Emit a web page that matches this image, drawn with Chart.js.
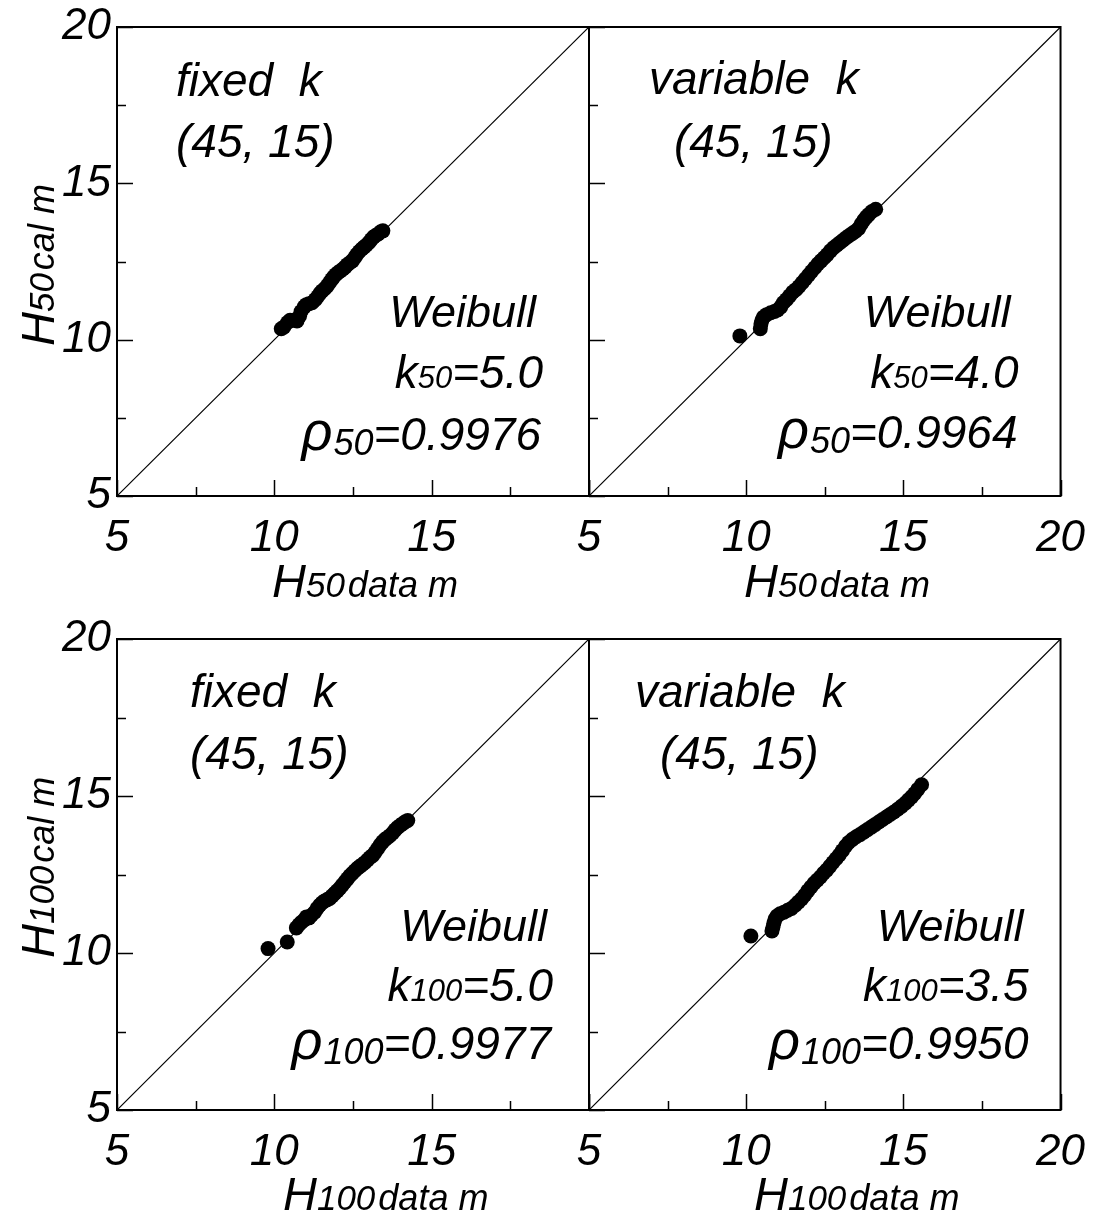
<!DOCTYPE html>
<html>
<head>
<meta charset="utf-8">
<title>H50 / H100 calculated vs data</title>
<script src="https://cdn.jsdelivr.net/npm/chart.js@4.4.0/dist/chart.umd.min.js"></script>
<style>
  html, body { margin: 0; padding: 0; background: #fff; }
  #wrap { position: relative; width: 1093px; height: 1218px; overflow: hidden; }
  #wrap canvas { position: absolute; left: 0; top: 0; }
</style>
</head>
<body>
<div id="wrap">
  <canvas id="tl" width="1093" height="1218"></canvas>
  <canvas id="tr" width="1093" height="1218"></canvas>
  <canvas id="bl" width="1093" height="1218"></canvas>
  <canvas id="br" width="1093" height="1218"></canvas>
</div>
<script>
// axis values
const axisTicks = [5, 10, 15, 20];
const minorTicks = [7.5, 12.5, 17.5];
const diagonal = [5, 20];

// H50, fixed k
const h50FixedData = [10.22, 10.30, 10.42, 10.50, 10.60, 10.72, 10.80, 10.85, 10.95, 11.02, 11.10, 11.20, 11.30, 11.38, 11.45, 11.52, 11.60, 11.68, 11.75, 11.82, 11.88, 11.95, 12.02, 12.10, 12.18, 12.25, 12.32, 12.40, 12.48, 12.55, 12.62, 12.70, 12.78, 12.85, 12.92, 13.00, 13.08, 13.15, 13.22, 13.30, 13.38, 13.45];
const h50FixedCal  = [10.35, 10.40, 10.55, 10.62, 10.62, 10.60, 10.75, 10.90, 11.05, 11.12, 11.15, 11.18, 11.28, 11.38, 11.48, 11.56, 11.63, 11.72, 11.82, 11.92, 12.00, 12.08, 12.14, 12.20, 12.26, 12.32, 12.40, 12.46, 12.52, 12.62, 12.72, 12.82, 12.90, 12.96, 13.02, 13.10, 13.20, 13.28, 13.33, 13.38, 13.45, 13.48];

// H50, variable k
const h50VarData = [9.80, 10.45, 10.47, 10.50, 10.55, 10.65, 10.78, 10.90, 11.00, 11.10, 11.18, 11.28, 11.38, 11.48, 11.58, 11.68, 11.78, 11.88, 11.98, 12.08, 12.18, 12.28, 12.38, 12.48, 12.58, 12.68, 12.78, 12.88, 12.98, 13.08, 13.18, 13.28, 13.38, 13.48, 13.58, 13.66, 13.74, 13.82, 13.90, 14.00, 14.12];
const h50VarCal  = [10.12, 10.35, 10.50, 10.62, 10.72, 10.80, 10.86, 10.90, 10.95, 11.05, 11.18, 11.28, 11.40, 11.52, 11.60, 11.70, 11.82, 11.94, 12.06, 12.18, 12.30, 12.42, 12.52, 12.62, 12.72, 12.84, 12.94, 13.02, 13.10, 13.18, 13.26, 13.33, 13.40, 13.47, 13.56, 13.70, 13.82, 13.92, 14.00, 14.10, 14.17];

// H100, fixed k
const h100FixedData = [9.80, 10.41, 10.70, 10.78, 10.86, 10.95, 11.02, 11.10, 11.18, 11.28, 11.36, 11.44, 11.52, 11.60, 11.68, 11.76, 11.84, 11.92, 12.00, 12.08, 12.16, 12.24, 12.32, 12.40, 12.48, 12.56, 12.64, 12.72, 12.80, 12.88, 12.96, 13.04, 13.12, 13.20, 13.28, 13.36, 13.44, 13.52, 13.60, 13.68, 13.76, 13.84, 13.92, 14.00, 14.08, 14.16, 14.24];
const h100FixedCal  = [10.14, 10.35, 10.80, 10.90, 10.98, 11.05, 11.15, 11.12, 11.20, 11.30, 11.42, 11.52, 11.60, 11.66, 11.70, 11.74, 11.82, 11.90, 11.98, 12.06, 12.16, 12.26, 12.36, 12.46, 12.54, 12.62, 12.70, 12.76, 12.82, 12.88, 12.96, 13.04, 13.10, 13.20, 13.32, 13.44, 13.54, 13.62, 13.68, 13.74, 13.82, 13.92, 14.00, 14.06, 14.12, 14.18, 14.22];

// H100, variable k
const h100VarData = [10.15, 10.82, 10.85, 10.88, 10.92, 10.98, 11.08, 11.20, 11.32, 11.44, 11.56, 11.66, 11.76, 11.86, 11.96, 12.06, 12.16, 12.26, 12.36, 12.46, 12.56, 12.66, 12.76, 12.86, 12.96, 13.06, 13.16, 13.26, 13.38, 13.50, 13.62, 13.74, 13.86, 13.98, 14.10, 14.22, 14.34, 14.46, 14.58, 14.70, 14.82, 14.94, 15.06, 15.16, 15.26, 15.36, 15.46, 15.58];
const h100VarCal  = [10.54, 10.70, 10.82, 10.95, 11.08, 11.18, 11.25, 11.30, 11.36, 11.42, 11.52, 11.62, 11.72, 11.84, 11.98, 12.10, 12.22, 12.32, 12.42, 12.54, 12.64, 12.76, 12.88, 13.00, 13.12, 13.26, 13.40, 13.52, 13.62, 13.70, 13.77, 13.85, 13.93, 14.01, 14.09, 14.17, 14.25, 14.33, 14.41, 14.49, 14.58, 14.67, 14.77, 14.87, 14.97, 15.08, 15.21, 15.36];

const W = 1093, H = 1218;
const FAMILY = '"Liberation Sans", Arial, Helvetica, sans-serif';
const font = size => 'italic ' + size + 'px ' + FAMILY;

function drawRuns(ctx, runs, x, y, align) {
  let total = 0;
  runs.forEach(r => {
    ctx.font = font(r.size);
    r.w = ctx.measureText(r.t).width + (r.gap || 0);
    total += r.w;
  });
  let cx = align === 'right' ? x - total : x;
  ctx.textAlign = 'left';
  ctx.textBaseline = 'alphabetic';
  runs.forEach(r => {
    ctx.font = font(r.size);
    ctx.fillText(r.t, cx + (r.gap || 0), y + (r.dy || 0));
    cx += r.w;
  });
}

function deco(p) {
  return {
    id: 'deco_' + p.id,
    afterDatasetsDraw(chart) {
      const { ctx, chartArea: a, scales: { x, y } } = chart;
      ctx.save();
      ctx.strokeStyle = '#000';
      ctx.fillStyle = '#000';

      // inward tick marks on bottom and left
      ctx.lineWidth = 1.5;
      ctx.beginPath();
      axisTicks.concat(minorTicks).forEach(v => {
        const len = axisTicks.includes(v) ? 16 : 9;
        const px = Math.round(x.getPixelForValue(v)) + 0.5;
        ctx.moveTo(px, a.bottom);
        ctx.lineTo(px, a.bottom - len);
        const py = Math.round(y.getPixelForValue(v)) + 0.5;
        ctx.moveTo(a.left, py);
        ctx.lineTo(a.left + len, py);
      });
      ctx.stroke();

      // frame
      ctx.lineWidth = 2;
      ctx.strokeRect(a.left, a.top, a.right - a.left, a.bottom - a.top);

      // annotations
      const big = 46;
      drawRuns(ctx, [{ t: p.head, size: big }], a.left + p.pos.headDx, a.top + p.pos.headDy, 'left');
      drawRuns(ctx, [{ t: '(45, 15)', size: big }], a.left + p.pos.parenDx, a.top + p.pos.parenDy, 'left');
      drawRuns(ctx, [{ t: 'Weibull', size: 45 }], a.right - p.pos.weibDx, a.top + p.pos.weibDy, 'right');
      drawRuns(ctx, [
        { t: 'k', size: big },
        { t: p.sub, size: 31 },
        { t: '=' + p.kValue, size: big }
      ], a.right - p.pos.kDx, a.top + p.pos.kDy, 'right');
      drawRuns(ctx, [
        { t: 'ρ', size: 54 },
        { t: p.sub, size: 36, dy: 5, gap: 1 },
        { t: '=' + p.rhoValue, size: big }
      ], a.right - p.pos.rhoDx, a.top + p.pos.rhoDy, 'right');

      // x title
      drawRuns(ctx, [
        { t: 'H', size: 47 },
        { t: p.sub, size: 35 },
        { t: 'data m', size: 36, gap: 3 }
      ], p.xTitle[0], p.xTitle[1], 'left');

      // y title (rotated)
      if (p.yTitle) {
        ctx.save();
        ctx.translate(p.yTitle[0], p.yTitle[1]);
        ctx.rotate(-Math.PI / 2);
        drawRuns(ctx, [
          { t: 'H', size: 47 },
          { t: p.sub, size: 35 },
          { t: 'cal m', size: 36, gap: 3 }
        ], 0, 0, 'left');
        ctx.restore();
      }
      ctx.restore();
    }
  };
}

function makePanel(p) {
  const yW = 60, xH = 70;
  const tickFont = { family: FAMILY, style: 'italic', size: 44 };
  return new Chart(document.getElementById(p.id), {
    type: 'scatter',
    data: {
      datasets: [
        {
          type: 'line',
          data: diagonal.map(v => ({ x: v, y: v })),
          borderColor: '#000',
          borderWidth: 1.2,
          pointRadius: 0,
          fill: false
        },
        {
          data: p.xs.map((v, i) => ({ x: v, y: p.ys[i] })),
          backgroundColor: '#000',
          borderWidth: 0,
          pointRadius: 7.5
        }
      ]
    },
    plugins: [deco(p)],
    options: {
      responsive: false,
      animation: false,
      events: [],
      layout: {
        padding: {
          left: p.area.l - yW,
          top: p.area.t,
          right: W - p.area.r,
          bottom: H - p.area.b - xH
        }
      },
      plugins: { legend: { display: false }, tooltip: { enabled: false } },
      scales: {
        x: {
          type: 'linear',
          min: 5,
          max: 20,
          afterFit: s => { s.height = xH; },
          afterBuildTicks: s => { s.ticks = p.xTicks.map(v => ({ value: v })); },
          grid: { display: false },
          border: { display: false },
          ticks: { font: tickFont, color: '#000', padding: 8, maxRotation: 0, autoSkip: false }
        },
        y: {
          type: 'linear',
          min: 5,
          max: 20,
          afterFit: s => { s.width = yW; },
          afterBuildTicks: s => { s.ticks = axisTicks.map(v => ({ value: v })); },
          grid: { display: false },
          border: { display: false },
          ticks: { display: p.showY, font: tickFont, color: '#000', padding: -2, autoSkip: false }
        }
      }
    }
  });
}

makePanel({
  id: 'tl', area: { l: 117, t: 27, r: 589, b: 496 },
  xs: h50FixedData, ys: h50FixedCal, xTicks: [5, 10, 15], showY: true,
  sub: '50', head: 'fixed  k', kValue: '5.0', rhoValue: '0.9976',
  pos: { headDx: 59, headDy: 69, parenDx: 59, parenDy: 130, weibDx: 53, weibDy: 300, kDx: 46, kDy: 361, rhoDx: 48, rhoDy: 423 },
  xTitle: [272, 597], yTitle: [54, 346]
});
makePanel({
  id: 'tr', area: { l: 589, t: 27, r: 1061, b: 496 },
  xs: h50VarData, ys: h50VarCal, xTicks: [5, 10, 15, 20], showY: false,
  sub: '50', head: 'variable  k', kValue: '4.0', rhoValue: '0.9964',
  pos: { headDx: 60, headDy: 67, parenDx: 85, parenDy: 130, weibDx: 50, weibDy: 300, kDx: 42, kDy: 361, rhoDx: 43, rhoDy: 421 },
  xTitle: [744, 597], yTitle: null
});
makePanel({
  id: 'bl', area: { l: 117, t: 639, r: 589, b: 1110 },
  xs: h100FixedData, ys: h100FixedCal, xTicks: [5, 10, 15], showY: true,
  sub: '100', head: 'fixed  k', kValue: '5.0', rhoValue: '0.9977',
  pos: { headDx: 73, headDy: 68, parenDx: 73, parenDy: 130, weibDx: 42, weibDy: 302, kDx: 36, kDy: 362, rhoDx: 38, rhoDy: 420 },
  xTitle: [283, 1210], yTitle: [54, 958]
});
makePanel({
  id: 'br', area: { l: 589, t: 639, r: 1061, b: 1110 },
  xs: h100VarData, ys: h100VarCal, xTicks: [5, 10, 15, 20], showY: false,
  sub: '100', head: 'variable  k', kValue: '3.5', rhoValue: '0.9950',
  pos: { headDx: 46, headDy: 68, parenDx: 71, parenDy: 130, weibDx: 37, weibDy: 302, kDx: 32, kDy: 362, rhoDx: 32, rhoDy: 420 },
  xTitle: [754, 1210], yTitle: null
});
</script>
</body>
</html>
